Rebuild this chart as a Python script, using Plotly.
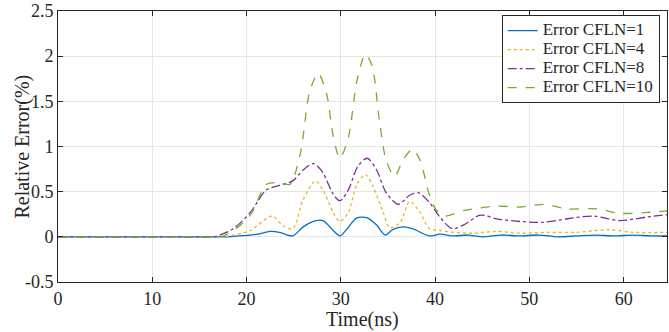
import plotly.graph_objects as go

t_10 = [0, 5, 10, 15, 17.2, 18.6, 20.4, 22.1, 23.5, 24.6, 25.7, 26.7, 27.6, 28.5, 29.2, 29.9, 30.8, 31.7, 32.6, 33.3, 34.1, 34.8, 35.7, 36.6, 37.6, 38.4, 39.4, 40.1, 41.0, 43.0, 46.5, 49.0, 51.6, 54.0, 57.2, 59.6, 62.5, 65.0]
v_10 = [0, 0, 0, 0, 0.0, 0.07, 0.24, 0.58, 0.60, 0.58, 0.92, 1.61, 1.81, 1.58, 1.11, 0.87, 1.10, 1.72, 2.02, 1.90, 1.28, 0.85, 0.67, 0.85, 0.97, 0.85, 0.46, 0.30, 0.23, 0.29, 0.34, 0.33, 0.36, 0.31, 0.31, 0.26, 0.27, 0.29]

t_8 = [0, 5, 10, 15, 16.5, 18.6, 20.4, 22.1, 23.5, 24.9, 26.0, 27.1, 28.1, 29.2, 29.9, 30.8, 31.8, 32.8, 33.8, 34.8, 36.1, 37.3, 38.2, 39.4, 40.5, 41.8, 43.0, 44.8, 46.5, 49.0, 51.4, 54.0, 56.8, 59.6, 62.5, 65.0]
v_8 = [0, 0, 0, 0, 0.0, 0.09, 0.27, 0.52, 0.57, 0.62, 0.74, 0.81, 0.71, 0.47, 0.40, 0.52, 0.78, 0.87, 0.74, 0.49, 0.36, 0.46, 0.49, 0.38, 0.22, 0.09, 0.13, 0.24, 0.20, 0.17, 0.16, 0.20, 0.23, 0.18, 0.22, 0.25]

t_4 = [0, 5, 10, 15, 17.5, 18.6, 20.4, 22.7, 23.9, 24.9, 26.0, 27.3, 28.1, 29.2, 29.9, 30.8, 31.7, 32.6, 33.4, 34.5, 35.2, 36.3, 37.3, 38.4, 39.4, 40.5, 42.0, 44.0, 46.5, 49.0, 52.0, 55.0, 58.5, 61.0, 65.0]
v_4 = [0, 0, 0, 0, 0.0, 0.02, 0.07, 0.23, 0.12, 0.09, 0.41, 0.62, 0.52, 0.27, 0.17, 0.27, 0.58, 0.69, 0.56, 0.27, 0.10, 0.16, 0.39, 0.27, 0.09, 0.07, 0.05, 0.04, 0.06, 0.04, 0.05, 0.05, 0.08, 0.05, 0.05]

t_1 = [0, 5, 10, 15, 18.0, 19.2, 20.4, 21.2, 22.5, 23.5, 24.9, 26.0, 27.1, 28.1, 29.2, 29.9, 30.6, 31.7, 32.8, 33.8, 34.7, 35.5, 36.6, 37.6, 39.4, 40.5, 42.0, 43.5, 45.0, 47.0, 49.0, 51.0, 53.0, 55.0, 57.0, 59.0, 61.0, 63.0, 65.0]
v_1 = [0, 0, 0, 0, 0.0, 0.01, 0.02, 0.03, 0.06, 0.05, 0.01, 0.11, 0.17, 0.18, 0.07, 0.01, 0.08, 0.21, 0.21, 0.13, 0.02, 0.08, 0.11, 0.09, 0.01, 0.03, 0.01, 0.02, 0.0, 0.02, 0.01, 0.02, 0.0, 0.01, 0.02, 0.01, 0.02, 0.01, 0.01]

x_ticks = [0, 10, 20, 30, 40, 50, 60]
y_ticks = [-0.5, 0, 0.5, 1, 1.5, 2, 2.5]
y_tick_text = ["-0.5", "0", "0.5", "1", "1.5", "2", "2.5"]

series_names = ["Error CFLN=1", "Error CFLN=4", "Error CFLN=8", "Error CFLN=10"]
series = [
    (series_names[0], t_1, v_1, "#0072BD", "solid"),
    (series_names[1], t_4, v_4, "#EDB120", "dot"),
    (series_names[2], t_8, v_8, "#7E2F8E", "dashdot"),
    (series_names[3], t_10, v_10, "#77AC30", "dash"),
]

fig = go.Figure()
for name, t, v, c, d in series:
    fig.add_trace(go.Scatter(x=t, y=v, name="<span style='font-size:17px'>" + name + "</span>",
                             mode="lines",
                             line=dict(color=c, dash=d, width=1.3, shape="spline", smoothing=0.8)))

font_family = "Liberation Serif, Times New Roman, serif"
fig.update_layout(
    width=669, height=332,
    margin=dict(l=58, r=2, t=11, b=50, autoexpand=False),
    paper_bgcolor="white", plot_bgcolor="white",
    font=dict(family=font_family, size=18, color="#262626"),
    showlegend=True,
    legend=dict(x=0.988, y=0.985, xanchor="right", yanchor="top",
                bgcolor="white", bordercolor="#262626", borderwidth=1,
                font=dict(family=font_family, size=12, color="#262626"),
                tracegroupgap=0, itemwidth=30),
    annotations=[
        dict(text="Time(ns)", xref="paper", yref="paper", x=0.5, y=-0.14,
             xanchor="center", yanchor="middle", showarrow=False,
             font=dict(family=font_family, size=20, color="#262626")),
        dict(text="Relative Error(%)", xref="paper", yref="paper", x=-0.059, y=0.5,
             xanchor="center", yanchor="middle", showarrow=False, textangle=-90,
             font=dict(family=font_family, size=20, color="#262626")),
    ],
)
fig.update_xaxes(range=[0, 64.6], tickvals=x_ticks, showgrid=True, gridcolor="#e6e6e6",
                 zeroline=False, showline=True, linecolor="#262626", linewidth=1, mirror="ticks",
                 ticks="inside", ticklen=5, tickcolor="#262626", automargin=False,
                 ticklabeloverflow="allow", tickfont=dict(size=18))
fig.update_yaxes(range=[-0.5, 2.5], tickvals=y_ticks, ticktext=y_tick_text, showgrid=True, gridcolor="#e6e6e6",
                 zeroline=False, showline=True, linecolor="#262626", linewidth=1, mirror="ticks",
                 ticks="inside", ticklen=5, tickcolor="#262626", automargin=False,
                 ticklabeloverflow="allow", tickfont=dict(size=18))

fig.write_html("out.html", config={"displayModeBar": False},
               post_script="document.body.style.margin='0';document.body.style.overflow='hidden';")
